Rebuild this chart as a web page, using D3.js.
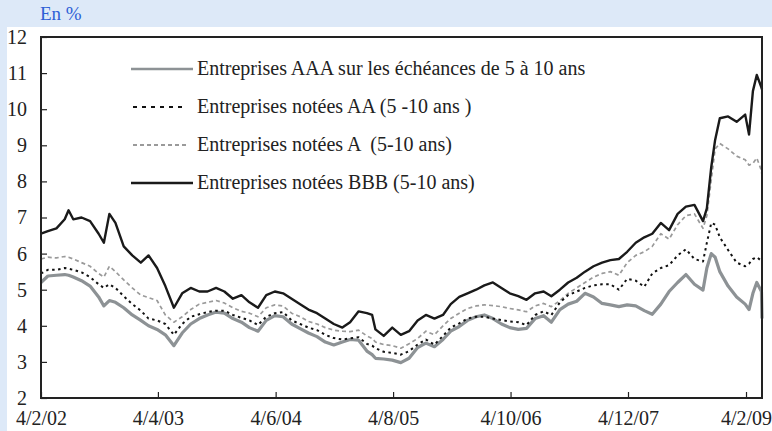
<!DOCTYPE html>
<html>
<head>
<meta charset="utf-8">
<script src="https://cdn.jsdelivr.net/npm/d3@7"></script>
<style>
  html, body { margin: 0; padding: 0; background: #fff; }
  svg { display: block; font-family: "Liberation Serif", "DejaVu Serif", serif; }
</style>
</head>
<body>
<svg id="chart" width="772" height="431"></svg>
<script>
// dates of the readings, shared by the four series
const dates = [
  '2002-02-04', '2002-03-01', '2002-04-01', '2002-05-01', '2002-05-15', '2002-06-01', '2002-07-01', '2002-08-01',
  '2002-09-01', '2002-09-20', '2002-10-10', '2002-11-01', '2002-12-01',
  '2003-01-01', '2003-02-01', '2003-03-01', '2003-04-01', '2003-05-01', '2003-06-01', '2003-07-01', '2003-08-01',
  '2003-09-01', '2003-10-01', '2003-11-01', '2003-12-01',
  '2004-01-01', '2004-02-01', '2004-03-01', '2004-04-01', '2004-05-01', '2004-06-01', '2004-07-01', '2004-08-01',
  '2004-09-01', '2004-10-01', '2004-11-01', '2004-12-01',
  '2005-01-01', '2005-02-01', '2005-03-01', '2005-04-01', '2005-05-01', '2005-05-20', '2005-06-01', '2005-07-01',
  '2005-08-01', '2005-09-01', '2005-10-01', '2005-11-01', '2005-12-01',
  '2006-01-01', '2006-02-01', '2006-03-01', '2006-04-01', '2006-05-01', '2006-06-01', '2006-07-01', '2006-08-01',
  '2006-09-01', '2006-10-01', '2006-11-01', '2006-12-01',
  '2007-01-01', '2007-02-01', '2007-03-01', '2007-04-01', '2007-05-01', '2007-06-01', '2007-07-01', '2007-08-01',
  '2007-09-01', '2007-10-01', '2007-11-01', '2007-12-01',
  '2008-01-01', '2008-02-01', '2008-03-01', '2008-04-01', '2008-05-01', '2008-06-01', '2008-07-01', '2008-08-01',
  '2008-09-01', '2008-09-15', '2008-10-01', '2008-10-15', '2008-11-01', '2008-12-01',
  '2009-01-01', '2009-02-01', '2009-02-15', '2009-03-01', '2009-03-15', '2009-04-01', '2009-04-03'
];

const aaa = [
  5.2, 5.38, 5.4, 5.42, 5.4, 5.35, 5.25, 5.1,
  4.8, 4.55, 4.7, 4.65, 4.5,
  4.3, 4.15, 4.0, 3.9, 3.75, 3.45, 3.8, 4.05,
  4.2, 4.3, 4.38, 4.35,
  4.2, 4.1, 3.95, 3.85, 4.15, 4.28, 4.25, 4.05,
  3.92, 3.8, 3.7, 3.55,
  3.47, 3.55, 3.62, 3.6, 3.3, 3.2, 3.1, 3.08,
  3.05, 2.98, 3.1, 3.4, 3.52,
  3.42, 3.62, 3.85, 3.98, 4.15, 4.25, 4.3, 4.2,
  4.05, 3.95, 3.9, 3.93,
  4.2, 4.28, 4.1, 4.45, 4.6, 4.68, 4.9, 4.8,
  4.62, 4.58, 4.53, 4.58,
  4.55, 4.42, 4.32, 4.6, 4.95, 5.2, 5.42, 5.15,
  4.99, 5.6, 6.0, 5.9, 5.5, 5.1,
  4.8, 4.6, 4.45, 4.9, 5.2, 4.95, 4.2
];

const aa = [
  5.45, 5.55, 5.55, 5.6, 5.58, 5.55, 5.48, 5.35,
  5.15, 5.05, 5.15, 5.05, 4.82,
  4.6, 4.42, 4.2, 4.15, 4.05, 3.75, 4.05, 4.25,
  4.32, 4.38, 4.42, 4.42,
  4.3, 4.22, 4.15, 4.02, 4.25, 4.35, 4.38, 4.15,
  4.05, 3.95, 3.88, 3.75,
  3.66, 3.62, 3.65, 3.68, 3.5, 3.45, 3.38, 3.28,
  3.25, 3.2, 3.3, 3.48, 3.62,
  3.48, 3.72, 3.95, 4.07, 4.2, 4.25, 4.25, 4.2,
  4.16, 4.12, 4.1, 4.02,
  4.3, 4.4, 4.3, 4.65, 4.85, 4.95, 5.05, 5.12,
  5.15, 5.15, 5.0, 5.3,
  5.25, 5.08, 5.45, 5.6, 5.68, 5.95, 6.12, 5.85,
  5.78, 6.3, 6.85, 6.8, 6.45, 6.1,
  5.75, 5.65, 5.72, 5.85, 5.9, 5.8, 5.78
];

const a = [
  5.85, 5.9, 5.88, 5.92, 5.9, 5.85, 5.75, 5.65,
  5.45, 5.35, 5.65, 5.5, 5.27,
  5.05, 4.85, 4.78, 4.7, 4.3, 4.1, 4.25, 4.45,
  4.6, 4.65, 4.7, 4.63,
  4.5, 4.4, 4.35, 4.25, 4.5, 4.58, 4.55, 4.35,
  4.25, 4.12, 4.05, 3.95,
  3.88, 3.85, 3.84, 3.88, 3.72, 3.65, 3.55, 3.48,
  3.45, 3.38, 3.5, 3.65, 3.85,
  3.75, 4.0, 4.2, 4.35, 4.48, 4.55, 4.58, 4.56,
  4.53, 4.48, 4.44, 4.39,
  4.55, 4.62, 4.53, 4.7, 4.9, 5.05, 5.2, 5.35,
  5.45, 5.5, 5.4, 5.75,
  5.95, 6.05, 6.2, 6.55, 6.4, 6.8, 7.05, 7.1,
  6.7, 7.05, 8.05, 8.9, 9.05, 8.9,
  8.7, 8.6, 8.45, 8.5, 8.65, 8.3, 8.15
];

const bbb = [
  6.55, 6.62, 6.7, 6.95, 7.2, 6.95, 7.0, 6.9,
  6.55, 6.3, 7.1, 6.85, 6.2,
  5.95, 5.75, 5.95, 5.6, 5.1, 4.5, 4.9, 5.05,
  4.95, 4.95, 5.05, 4.95,
  4.75, 4.85, 4.65, 4.5, 4.85, 4.95, 4.9, 4.75,
  4.6, 4.45, 4.35, 4.2,
  4.05, 3.95, 4.1, 4.4, 4.35, 4.3, 3.9, 3.72,
  3.95, 3.75, 3.85, 4.15, 4.3,
  4.2, 4.3, 4.6, 4.8, 4.9, 5.0, 5.12, 5.2,
  5.05, 4.9, 4.82, 4.72,
  4.9, 4.95, 4.82, 5.0, 5.2, 5.33, 5.5, 5.65,
  5.75, 5.82, 5.85, 6.05,
  6.3, 6.45, 6.55, 6.85, 6.65, 7.1, 7.3, 7.35,
  6.9, 7.25, 8.4, 9.15, 9.75, 9.8,
  9.65, 9.85, 9.3, 10.5, 10.95, 10.6, 10.55
];

const yTicks = [2, 3, 4, 5, 6, 7, 8, 9, 10, 11, 12];
const xTicks = ['2002-02-04', '2003-04-04', '2004-06-04', '2005-08-04', '2006-10-04', '2007-12-04', '2009-02-04'];

const legendLabels = [
  'Entreprises AAA sur les échéances de 5 à 10 ans',
  'Entreprises notées AA (5 -10 ans )',
  'Entreprises notées A  (5-10 ans)',
  'Entreprises notées BBB (5-10 ans)'
];

const parse = d3.timeParse('%Y-%m-%d');
const fmt = d3.timeFormat('%-d/%-m/%y');

const svg = d3.select('#chart');
const W = 772, H = 431;
const plotLeft = 41, plotRight = 762, plotTop = 37, plotBottom = 398;

// light blue page band (top strip and left strip)
svg.append('rect').attr('x', 0).attr('y', 0).attr('width', W).attr('height', H).attr('fill', '#dde9f8');
svg.append('rect').attr('x', 7).attr('y', 27).attr('width', W - 7).attr('height', H - 27).attr('fill', '#fff');

svg.append('text')
  .attr('x', 40).attr('y', 20)
  .attr('font-size', 19)
  .attr('fill', '#2d5fd6')
  .text('En %');

const x = d3.scaleTime()
  .domain([parse('2002-02-04'), parse('2009-04-03')])
  .range([plotLeft, plotRight]);
const y = d3.scaleLinear()
  .domain([2, 12])
  .range([plotBottom, plotTop]);

const rows = dates.map((d, i) => ({ date: parse(d), aaa: aaa[i], aa: aa[i], a: a[i], bbb: bbb[i] }));

const series = [
  { key: 'aaa', color: '#8d9295', width: 3.2, dash: null },
  { key: 'a', color: '#9a9a9a', width: 1.7, dash: '4,3' },
  { key: 'aa', color: '#111', width: 2, dash: '2.5,3.5' },
  { key: 'bbb', color: '#1a1a1a', width: 2.4, dash: null }
];

const plot = svg.append('g');
series.forEach(s => {
  const line = d3.line()
    .x(d => x(d.date))
    .y(d => y(d[s.key]));
  plot.append('path')
    .datum(rows)
    .attr('fill', 'none')
    .attr('stroke', s.color)
    .attr('stroke-width', s.width)
    .attr('stroke-linejoin', 'round')
    .attr('stroke-dasharray', s.dash)
    .attr('d', line);
});

// axes, ticks pointing inward
const xAxis = svg.append('g')
  .attr('transform', `translate(0,${plotBottom})`)
  .call(d3.axisBottom(x).tickValues(xTicks.map(parse)).tickFormat(fmt).tickSize(-6).tickPadding(13));
const yAxis = svg.append('g')
  .attr('transform', `translate(${plotLeft},0)`)
  .call(d3.axisLeft(y).tickValues(yTicks).tickFormat(d3.format('d')).tickSize(-6).tickPadding(14));
[xAxis, yAxis].forEach(g => {
  g.select('.domain').remove();
  g.selectAll('line').attr('stroke', '#222').attr('stroke-width', 1.2);
  g.selectAll('text').attr('font-family', '"Liberation Serif", serif').attr('font-size', 20).attr('fill', '#222');
});

svg.append('rect')
  .attr('x', plotLeft).attr('y', plotTop)
  .attr('width', plotRight - plotLeft).attr('height', plotBottom - plotTop)
  .attr('fill', 'none')
  .attr('stroke', '#222')
  .attr('stroke-width', 2);

// legend
const legend = svg.append('g');
const legendY = [69, 107, 145, 183];
const legendOrder = ['aaa', 'aa', 'a', 'bbb'];
legendOrder.forEach((key, i) => {
  const item = series.find(t => t.key === key);
  const dashed = item.dash !== null;
  legend.append('line')
    .attr('x1', dashed ? 133 : 131).attr('x2', dashed ? 187 : 193)
    .attr('y1', legendY[i]).attr('y2', legendY[i])
    .attr('stroke', item.color)
    .attr('stroke-width', key === 'aaa' ? 2.6 : (dashed ? 1.8 : 2.4))
    .attr('stroke-dasharray', key === 'aa' ? '4,5' : item.dash);
  legend.append('text')
    .attr('x', 197).attr('y', legendY[i] + 6)
    .attr('font-size', 20)
    .attr('fill', '#222')
    .attr('xml:space', 'preserve')
    .text(legendLabels[i]);
});
</script>
</body>
</html>
